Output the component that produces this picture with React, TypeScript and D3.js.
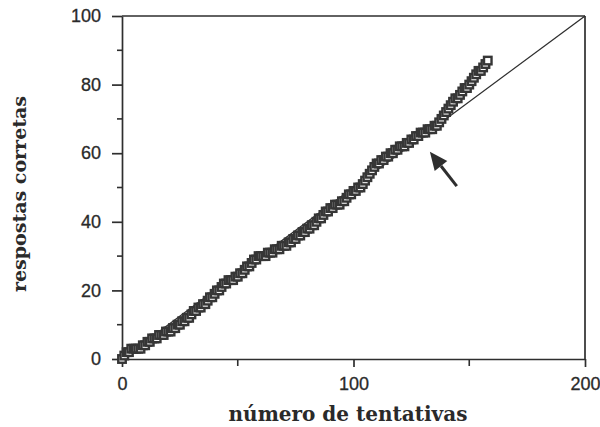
import { useEffect, useRef } from 'react';
import * as d3 from 'd3';

// cumulative correct responses, one value per trial (trial 0..158)
const CORRECT = [
  0, 1, 2, 2, 3, 3, 3, 3, 3, 4,
  4, 5, 5, 6, 6, 6, 7, 7, 7, 8, 8, 8, 9,
  9, 10, 10, 11, 11, 12, 12, 13,
  14, 14, 15, 15, 16, 16, 17, 18, 18, 19,
  20, 20, 21, 22, 22, 23, 23, 23, 24, 24,
  25, 25, 26, 27, 27, 28, 29, 29, 30, 30, 30,
  30, 31, 31, 31, 32, 32, 32, 33, 33, 33,
  34, 34, 35, 35, 36, 36, 37, 37, 38, 38, 39, 39,
  40, 41, 41, 42, 43, 43, 44, 44,
  45, 45, 45, 46, 46, 47, 48, 48, 49, 49, 50, 50,
  51, 52, 53, 54, 55, 56, 57, 57, 58, 58,
  59, 59, 60, 60, 61, 61, 62, 62, 62, 63, 63,
  64, 64, 65, 65, 66, 66, 66, 67, 67, 67,
  68, 68, 69, 70, 71, 72, 73, 74, 75,
  76, 76, 77, 78, 79, 79, 80, 81, 82, 83, 84, 84,
  85, 86, 87,
];
const X_TICKS = [0, 100, 200];
const X_MINOR = [50, 150];
const Y_TICKS = [0, 20, 40, 60, 80, 100];
const Y_MINOR = [10, 30, 50, 70, 90];
const REF_LINE = [[0, 0], [200, 100]];
const ARROW_TAIL = [144.6, 50.4];
const ARROW_TIP = [133, 60.4];

const W = 600, H = 427;
const M = { top: 16, right: 15, bottom: 68, left: 122 };
const INK = '#2e2e2e';

export default function App() {
  const ref = useRef<SVGSVGElement>(null);
  useEffect(() => {
    const svg = d3.select(ref.current); svg.selectAll('*').remove();
    const x = d3.scaleLinear().domain([0, 200]).range([M.left, W - M.right]);
    const y = d3.scaleLinear().domain([0, 100]).range([H - M.bottom, M.top]);

    // minor ticks
    svg.append('g').selectAll('line').data(Y_MINOR).join('line')
      .attr('x1', x(0) - 5).attr('x2', x(0)).attr('y1', d => y(d)).attr('y2', d => y(d))
      .attr('stroke', INK).attr('stroke-width', 1.6);
    svg.append('g').selectAll('line').data(X_MINOR).join('line')
      .attr('x1', d => x(d)).attr('x2', d => x(d)).attr('y1', y(0)).attr('y2', y(0) + 7)
      .attr('stroke', INK).attr('stroke-width', 1.6);

    const yAxis = svg.append('g').attr('transform', `translate(${x(0)},0)`)
      .call(d3.axisLeft(y).tickValues(Y_TICKS).tickSize(10).tickSizeOuter(0).tickPadding(11));
    const xAxis = svg.append('g').attr('transform', `translate(0,${y(0)})`)
      .call(d3.axisBottom(x).tickValues(X_TICKS).tickSize(8).tickSizeOuter(0).tickPadding(10));
    [yAxis, xAxis].forEach(a => {
      a.selectAll('.domain, .tick line').attr('stroke', INK).attr('stroke-width', 1.7);
      a.selectAll('text').attr('fill', '#2a2a2a').attr('font-size', 18)
        .attr('font-family', '"Liberation Sans", Arial, sans-serif')
        .attr('stroke', '#2a2a2a').attr('stroke-width', 0.3);
    });

    // frame top and right
    svg.append('line').attr('x1', x(0)).attr('x2', x(200)).attr('y1', y(100)).attr('y2', y(100))
      .attr('stroke', INK).attr('stroke-width', 1.7);
    svg.append('line').attr('x1', x(200)).attr('x2', x(200)).attr('y1', y(100)).attr('y2', y(0))
      .attr('stroke', INK).attr('stroke-width', 1.7);

    svg.append('line')
      .attr('x1', x(REF_LINE[0][0])).attr('y1', y(REF_LINE[0][1]))
      .attr('x2', x(REF_LINE[1][0])).attr('y2', y(REF_LINE[1][1]))
      .attr('stroke', INK).attr('stroke-width', 1.3);

    const s = 7.5;
    svg.append('g').selectAll('rect').data(CORRECT).join('rect')
      .attr('x', (d, i) => x(i) - s / 2).attr('y', d => y(d) - s / 2)
      .attr('width', s).attr('height', s)
      .attr('fill', '#fff').attr('stroke', '#363636').attr('stroke-width', 2.4);

    // arrow
    const [tx, ty] = [x(ARROW_TIP[0]), y(ARROW_TIP[1])];
    const [sx, sy] = [x(ARROW_TAIL[0]), y(ARROW_TAIL[1])];
    const ang = Math.atan2(ty - sy, tx - sx);
    const hl = 18, hw = 8;
    const bx = tx - hl * Math.cos(ang), by = ty - hl * Math.sin(ang);
    svg.append('line').attr('x1', sx).attr('y1', sy).attr('x2', bx).attr('y2', by)
      .attr('stroke', INK).attr('stroke-width', 3);
    svg.append('path')
      .attr('d', `M${tx},${ty}L${bx - hw * Math.sin(ang)},${by + hw * Math.cos(ang)}L${bx + hw * Math.sin(ang)},${by - hw * Math.cos(ang)}Z`)
      .attr('fill', INK);

    svg.append('text').attr('x', 348).attr('y', 421).attr('text-anchor', 'middle')
      .attr('font-family', '"DejaVu Serif", serif').attr('font-weight', 'bold').attr('font-size', 20)
      .attr('fill', '#2a2a2a').text('número de tentativas');
    svg.append('text').attr('transform', 'translate(26,194) rotate(-90)').attr('text-anchor', 'middle')
      .attr('font-family', '"DejaVu Serif", serif').attr('font-weight', 'bold').attr('font-size', 19)
      .attr('fill', '#2a2a2a').text('respostas corretas');
  }, []);
  return <svg ref={ref} width={W} height={H} style={{ position: 'absolute', left: 0, top: 0, background: '#fff' }} />;
}
